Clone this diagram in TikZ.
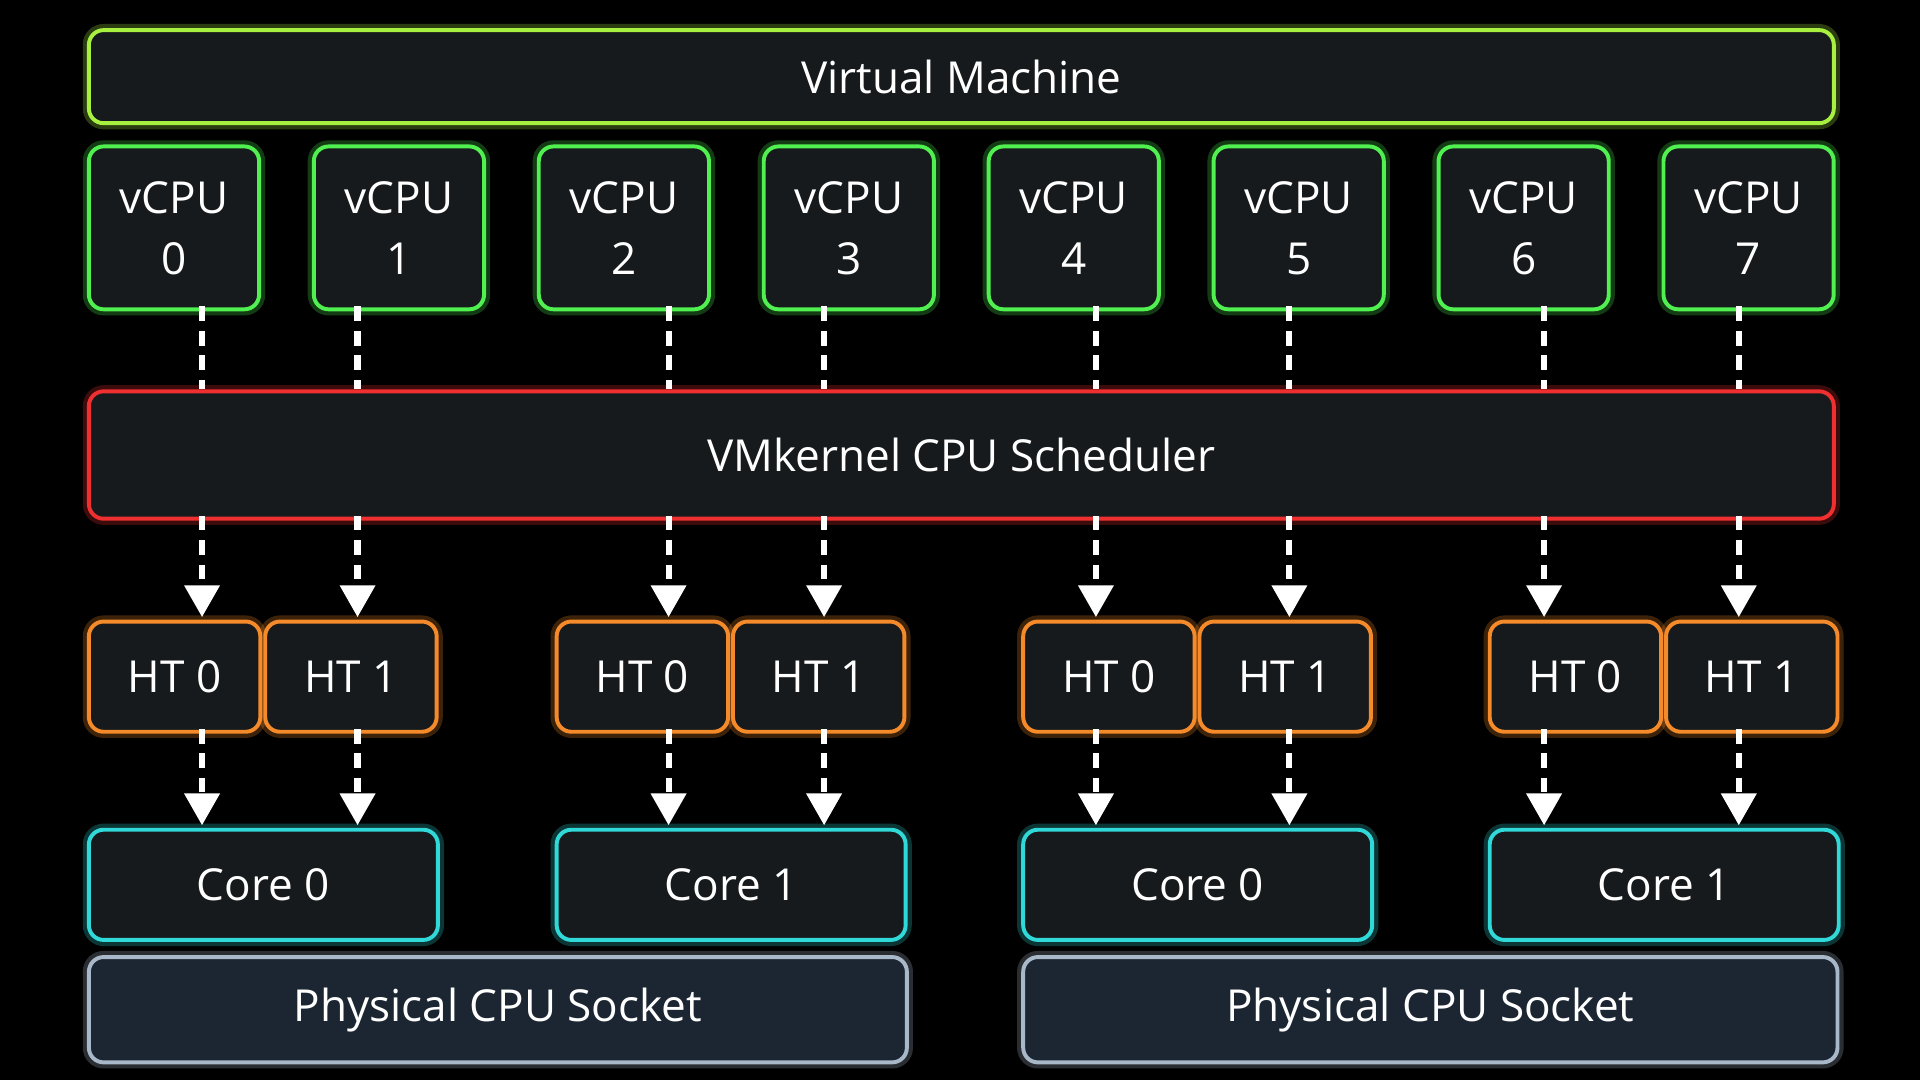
\documentclass[tikz,border=0pt]{standalone}
\usepackage{fontspec}
\setmainfont{Open Sans}
\usetikzlibrary{arrows.meta}
\definecolor{vmg}{HTML}{A8F040}
\definecolor{vcg}{HTML}{50F050}
\definecolor{schr}{HTML}{F03030}
\definecolor{hto}{HTML}{F58A2A}
\definecolor{corec}{HTML}{30D8D8}
\definecolor{sockc}{HTML}{A8B8C8}
\definecolor{boxf}{HTML}{161A1C}
\definecolor{sockf}{HTML}{1C2632}
\begin{document}
\begin{tikzpicture}[x=1pt,y=-1pt,
  bx/.style={draw=#1,line width=3.2pt,rounded corners=12pt,fill=boxf,text=white,
    inner sep=0pt,anchor=north west,align=center,
    preaction={draw=#1,line width=10pt,draw opacity=0.25,rounded corners=12pt}},
  lbl/.style={font=\fontsize{36}{50}\selectfont},
  dl/.style={white,line width=5pt,dash pattern=on 12pt off 8pt},
  ar/.style={dl,-{Triangle[width=28pt,length=26pt]},shorten >=2pt}]
\useasboundingbox[fill=black] (0,0) rectangle (1568,882);
\node[bx=vmg,lbl,minimum width=1425pt,minimum height=76pt] (vm) at (71,23) {Virtual Machine};
\foreach \i in {0,...,7}{
  \node[bx=vcg,lbl,minimum width=139pt,minimum height=133pt] (vc\i) at ({71+183.7*\i},118) {vCPU\\\i};
}
\node[bx=schr,lbl,minimum width=1425pt,minimum height=104pt] (sch) at (71,318) {VMkernel CPU Scheduler};
\foreach \n/\x/\m in {0/71/0,1/453/1,2/834/0,3/1215/1}{
  \node[bx=hto,lbl,minimum width=140pt,minimum height=90pt] (hta\n) at (\x,506) {HT 0};
  \node[bx=hto,lbl,minimum width=140pt,minimum height=90pt] (htb\n) at (\x+144,506) {HT 1};
  \node[bx=corec,lbl,minimum width=285pt,minimum height=90pt] (core\n) at (\x,676) {Core \m};
}
\node[bx=sockc,fill=sockf,lbl,minimum width=668pt,minimum height=86pt] (s0) at (71,780) {Physical CPU Socket};
\node[bx=sockc,fill=sockf,lbl,minimum width=665pt,minimum height=86pt] (s1) at (834,780) {Physical CPU Socket};
\foreach \k/\x/\v/\h/\c in {0/165/0/hta0/core0,1/292/1/htb0/core0,2/546/2/hta1/core1,3/673/3/htb1/core1,
  4/895/4/hta2/core2,5/1053/5/htb2/core2,6/1261/6/hta3/core3,7/1420/7/htb3/core3}{
  \coordinate (c\k) at (\x,0);
  \draw[dl] ([yshift=4pt]vc\v.south -| c\k) -- (sch.north -| c\k);
  \draw[ar] ([yshift=4pt]sch.south -| c\k) -- (\h.north -| c\k);
  \draw[ar] ([yshift=4pt]\h.south -| c\k) -- (\c.north -| c\k);
}
\end{tikzpicture}
\end{document}
